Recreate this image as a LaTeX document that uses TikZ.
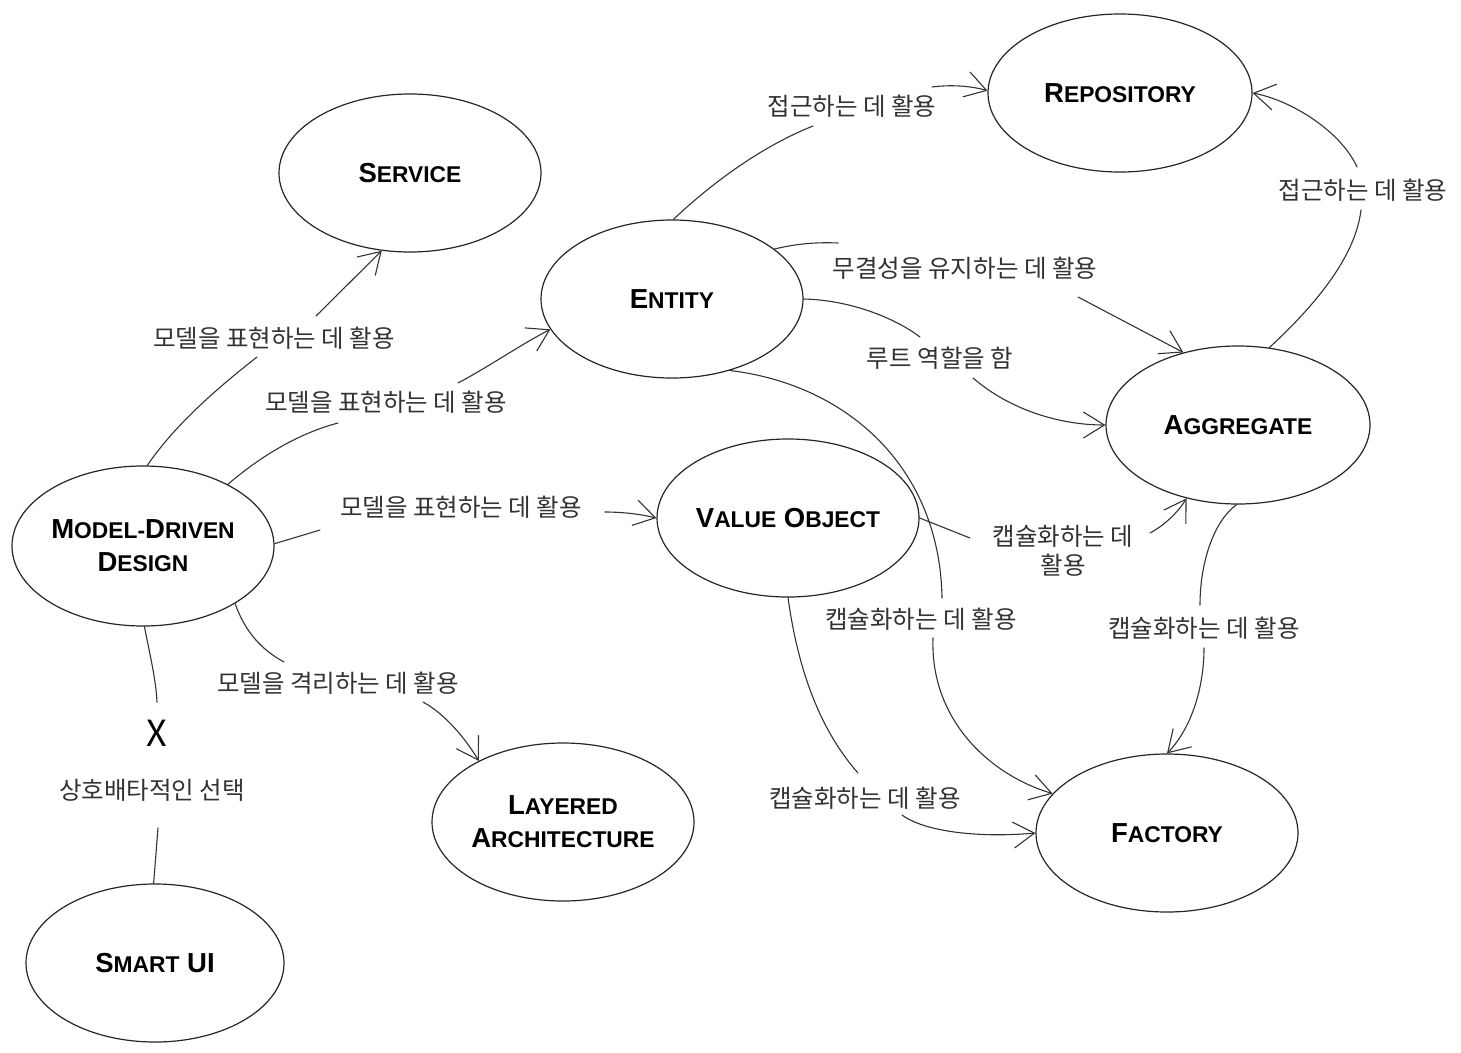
\documentclass[tikz,border=0pt]{standalone}
\usepackage{fontspec}
\setmainfont{Liberation Sans}
\newfontfamily\kr{Noto Sans CJK KR}
\usetikzlibrary{shapes.geometric,arrows.meta}
\newcommand\sck[2]{{\fontsize{27.5}{33}\selectfont #1}{\fontsize{22.8}{33}\selectfont #2}}
\begin{document}
\begin{tikzpicture}[x=1pt,y=-1pt,
  concept/.style={draw=black!85, line width=1.2pt, ellipse, inner sep=0pt,
    minimum width=262pt, minimum height=158pt,
    font=\bfseries\fontsize{27.5}{33}\selectfont, align=center, text=black},
  lbl/.style={font=\kr\fontsize{24.5}{29}\selectfont, text=black!80, inner sep=0pt, align=center},
  link/.style={draw=black!80, line width=1.1pt, line cap=round},
  arr/.style={link, -{Straight Barb[length=21pt,width=26pt]}},
]
\fill[white] (0,0) rectangle (1461,1052);
\useasboundingbox (0,0) rectangle (1461,1052);

% concepts
\node[concept] (svc) at (410,173) {\sck{S}{ERVICE}};
\node[concept, minimum width=264pt] (rep) at (1120,93) {\sck{R}{EPOSITORY}};
\node[concept] (ent) at (672,299) {\sck{E}{NTITY}};
\node[concept, minimum width=264pt] (agg) at (1238,425) {\sck{A}{GGREGATE}};
\node[concept, minimum height=160pt] (mdd) at (143,546) {\sck{M}{ODEL-}\sck{D}{RIVEN}\\\sck{D}{ESIGN}};
\node[concept] (vo) at (788,518) {\sck{V}{ALUE} \sck{O}{BJECT}};
\node[concept] (lay) at (563,822) {\sck{L}{AYERED}\\\sck{A}{RCHITECTURE}};
\node[concept] (fac) at (1167,833) {\sck{F}{ACTORY}};
\node[concept, minimum width=258pt] (smart) at (155,963) {\sck{S}{MART} \sck{UI}{}};

% labels
\node[lbl] (l1) at (274,338) {모델을 표현하는 데 활용};
\node[lbl] (l2) at (386,402) {모델을 표현하는 데 활용};
\node[lbl] (l3) at (461,507) {모델을 표현하는 데 활용};
\node[lbl] (l4) at (338,683) {모델을 격리하는 데 활용};
\node[font=\kr\fontsize{36}{40}\selectfont, inner sep=0pt, text=black] (xx) at (157,733) {X};
\node[lbl] (l5) at (152,790) {상호배타적인 선택};
\node[lbl] (l6) at (852,106) {접근하는 데 활용};
\node[lbl] (l7) at (965,268) {무결성을 유지하는 데 활용};
\node[lbl] (l8) at (940,358) {루트 역할을 함};
\node[lbl] (l9) at (921,619) {캡슐화하는 데 활용};
\node[lbl] (l10) at (1063,551) {캡슐화하는 데\\활용};
\node[lbl] (l11) at (865,798) {캡슐화하는 데 활용};
\node[lbl] (l12) at (1204,628) {캡슐화하는 데 활용};
\node[lbl] (l13) at (1363,190) {접근하는 데 활용};

% gap coordinates
\coordinate (a1) at (257,357);  \coordinate (b1) at (316,316);
\coordinate (a2) at (338,423);  \coordinate (b2) at (458,383);
\coordinate (a3) at (320,530);  \coordinate (b3) at (605,512);
\coordinate (a4) at (284,662);  \coordinate (b4) at (423,702);
\coordinate (a5) at (157,702);  \coordinate (b5) at (158,828);
\coordinate (a6) at (813,126);  \coordinate (b6) at (932,87);
\coordinate (a7) at (838,243);  \coordinate (b7) at (1078,297);
\coordinate (a8) at (920,337);  \coordinate (b8) at (973,378);
\coordinate (a9) at (942,598);  \coordinate (b9) at (933,638);
\coordinate (a10) at (970,538); \coordinate (b10) at (1150,533);
\coordinate (a11) at (858,773); \coordinate (b11) at (902,815);
\coordinate (a12) at (1200,605); \coordinate (b12) at (1204,648);
\coordinate (a13) at (1361,210); \coordinate (b13) at (1357,167);

% MDD -> Service
\draw[link] (mdd.87) .. controls (175,425) and (215,390) .. (a1);
\draw[arr] (b1) -- (svc.250);
% MDD -> Entity
\draw[link] (mdd.36.5) .. controls (262,455) and (300,433) .. (a2);
\draw[arr] (b2) .. controls (490,366) and (520,345) .. (ent.194);
% MDD -> Value Object
\draw[link] (mdd.1) -- (a3);
\draw[arr] (b3) .. controls (622,512) and (640,514) .. (vo.180);
% MDD -> Layered
\draw[link] (mdd.328.5) .. controls (245,632) and (262,650) .. (a4);
\draw[arr] (b4) .. controls (445,714) and (465,738) .. (lay.144);
% MDD -- Smart UI
\draw[link] (mdd.271) .. controls (150,655) and (156,680) .. (a5);
\draw[link] (b5) -- (smart.91);
% Entity -> Repository
\draw[link] (ent.89) .. controls (715,180) and (765,145) .. (a6);
\draw[arr] (b6) .. controls (955,84) and (975,87) .. (rep.179);
% Entity -> Aggregate (integrity)
\draw[link] (ent.26.8) .. controls (795,244) and (815,242) .. (a7);
\draw[arr] (b7) -- (agg.127);
% Entity -> Aggregate (root)
\draw[link] (ent.0) .. controls (850,300) and (895,318) .. (a8);
\draw[arr] (b8) .. controls (1010,410) and (1060,425) .. (agg.180);
% Entity -> Factory
\draw[link] (ent.309) .. controls (850,385) and (940,470) .. (a9);
\draw[arr] (b9) .. controls (930,720) and (990,775) .. (fac.161);
% Value Object -> Aggregate
\draw[link] (vo.0) -- (a10);
\draw[arr] (b10) .. controls (1165,525) and (1178,512) .. (agg.235.6);
% Value Object -> Factory
\draw[link] (vo.270) .. controls (798,670) and (820,730) .. (a11);
\draw[arr] (b11) .. controls (925,832) and (980,838) .. (fac.180);
% Aggregate -> Factory
\draw[link] (agg.269) .. controls (1215,520) and (1200,560) .. (a12);
\draw[arr] (b12) .. controls (1204,690) and (1190,730) .. (fac.90);
% Aggregate -> Repository
\draw[link] (agg.68.5) .. controls (1310,310) and (1355,260) .. (a13);
\draw[arr] (b13) .. controls (1340,130) and (1290,100) .. (rep.0);
\end{tikzpicture}
\end{document}
